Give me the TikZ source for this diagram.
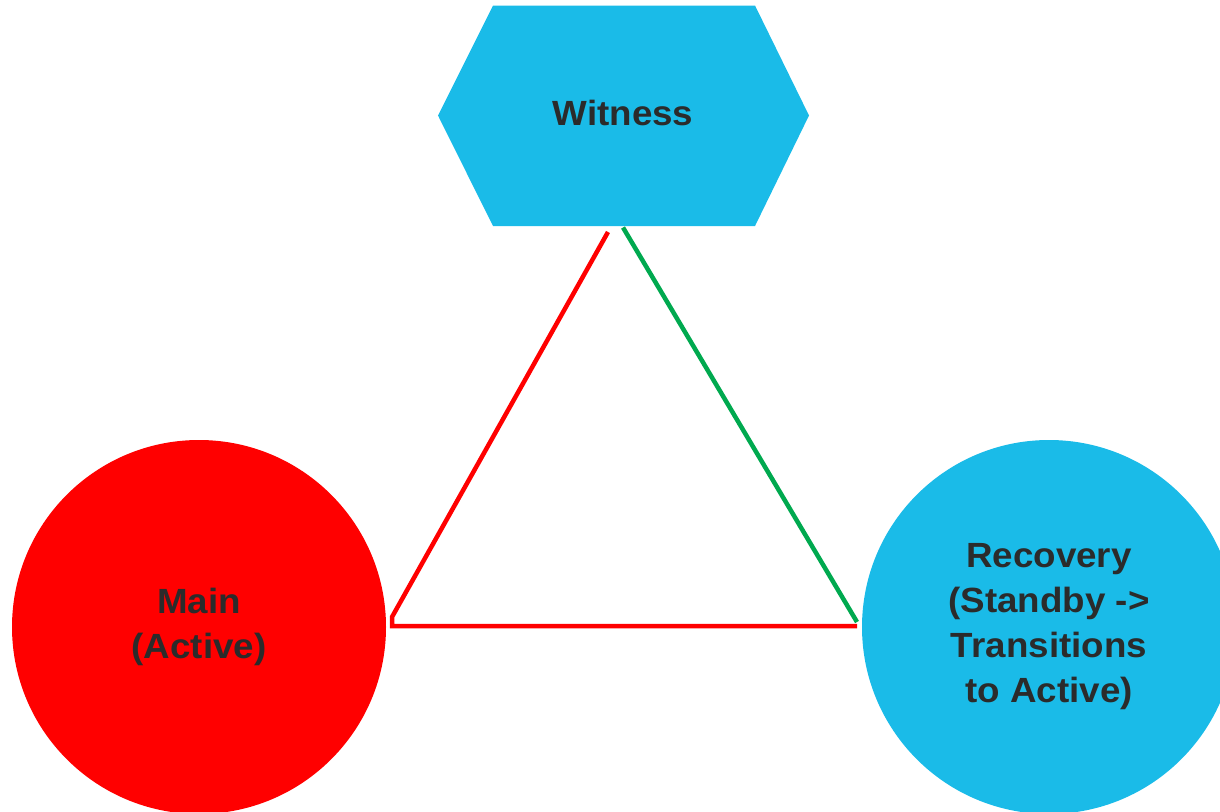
\documentclass[tikz,border=0pt]{standalone}
\usepackage{fontspec}
\setmainfont{Liberation Sans}[FakeStretch=1.05]
\usetikzlibrary{shapes.geometric}
\definecolor{cyanfill}{HTML}{1ABBE8}
\definecolor{redfill}{HTML}{FF0000}
\definecolor{linkgreen}{HTML}{00A94F}
\definecolor{txt}{HTML}{2B2B2B}
\tikzset{
  lbl/.style={text=txt,font=\fontsize{35}{45}\selectfont\bfseries,align=center},
  site/.style={circle,minimum size=374pt,inner sep=0pt,lbl},
  redlink/.style={draw=redfill,line width=4.5pt},
  greenlink/.style={draw=linkgreen,line width=4.5pt}
}
\begin{document}
\begin{tikzpicture}[x=1pt,y=-1pt]
\useasboundingbox (0,0) rectangle (1220,811);
% witness hexagon
\fill[cyanfill] (493,5.5) -- (755,5.5) -- (809,115.5) -- (755,226) -- (493,226) -- (438,115.5) -- cycle;
\node[lbl] (witness) at (623,113) {Witness};
\node[site,fill=redfill] (main) at (199,627) {Main\\(Active)};
\node[site,fill=cyanfill] (recovery) at (1049,627) {Recovery\\(Standby ->\\Transitions\\to Active)};
\coordinate (wl) at (608,232);
\coordinate (wr) at (623,227.5);
\coordinate (mc) at (392,617);
\coordinate (mb) at (392,626);
\coordinate (rc) at (857,626);
\coordinate (rt) at (857,622);
\draw[redlink,line join=miter] (wl) -- (mc) -- (mb) -- (rc);
\draw[greenlink] (wr) -- (rt);
\end{tikzpicture}
\end{document}
